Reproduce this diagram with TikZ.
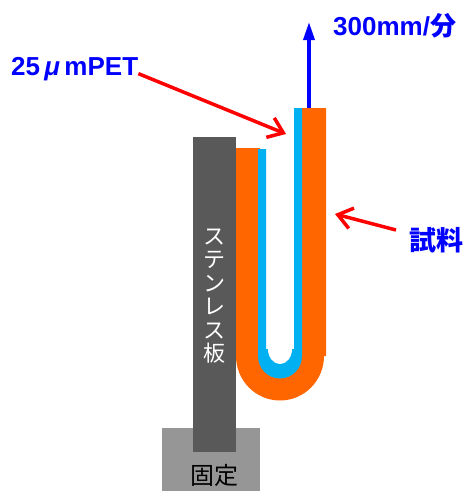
\documentclass[tikz,border=0pt]{standalone}
\usepackage{fontspec}
\setmainfont{Liberation Sans}
\newfontfamily\jpfont{Noto Sans CJK JP}
\usetikzlibrary{arrows.meta}
\definecolor{sampleorange}{HTML}{FF6600}
\definecolor{filmblue}{HTML}{00B0F0}
\definecolor{plategray}{HTML}{595959}
\definecolor{basegray}{HTML}{969696}
\tikzset{
  redarrow/.style={draw=red,line width=3.5pt,-{Straight Barb[length=14pt,width=21pt,line width=3.5pt]}},
  bluelabel/.style={text=blue,font=\bfseries\fontsize{26}{28}\selectfont,inner sep=0pt},
}

\begin{document}
\begin{tikzpicture}[x=1pt,y=-1pt]
    \useasboundingbox (0,0) rectangle (465,491);

    % Base and plate
    \fill[basegray] (162,428) rectangle (260,491);
    \fill[plategray] (193,137) rectangle (236,452);

    % Sample
    \fill[sampleorange] (236,148) -- (260,148) -- (260,355) -- (302,355) -- (302,108) -- (326,108)
        -- (326,356) -- (324,356) arc (0:180:44 and 44.5) -- cycle;

    % Film
    \fill[filmblue] (258,149) -- (266,149) -- (266,349) -- (294,349) -- (294,108) -- (302,108)
        -- (302,356) arc (0:180:22 and 22.5) -- cycle;
    \fill[white] (268,349) arc (180:0:12 and 15) -- cycle;

    % Labels
    \node[bluelabel,anchor=base west] (film) at (11,75) {25\,{\itshape μ}\,mPET};
    \node[bluelabel,anchor=base west] (speed) at (333,35) {300mm/{\jpfont 分}};
    \node[bluelabel,font=\jpfont\bfseries\fontsize{27}{29}\selectfont,anchor=west] (sample) at (409,240) {試料};
    \node[text=white,font=\jpfont\fontsize{22}{23.5}\selectfont,align=center,inner sep=0pt] (plate) at (214,296)
        {ス\\テ\\ン\\レ\\ス\\板};
    \node[font=\jpfont\fontsize{24}{26}\selectfont,inner sep=0pt] (base) at (214,475) {固定};

    % Arrows
    \coordinate (filmtip) at (286,134);
    \coordinate (sampletip) at (335,214);
    \coordinate (pullfoot) at (309,108);
    \coordinate (pulltip) at (309,22);
    \draw[redarrow] ([yshift=-5pt]film.east) -- (filmtip);
    \draw[redarrow] ([xshift=-13pt,yshift=10pt]sample.west) -- (sampletip);
    \draw[blue,line width=3.5pt,-{Triangle[length=18pt,width=11pt]}] (pullfoot) -- (pulltip);
\end{tikzpicture}
\end{document}
